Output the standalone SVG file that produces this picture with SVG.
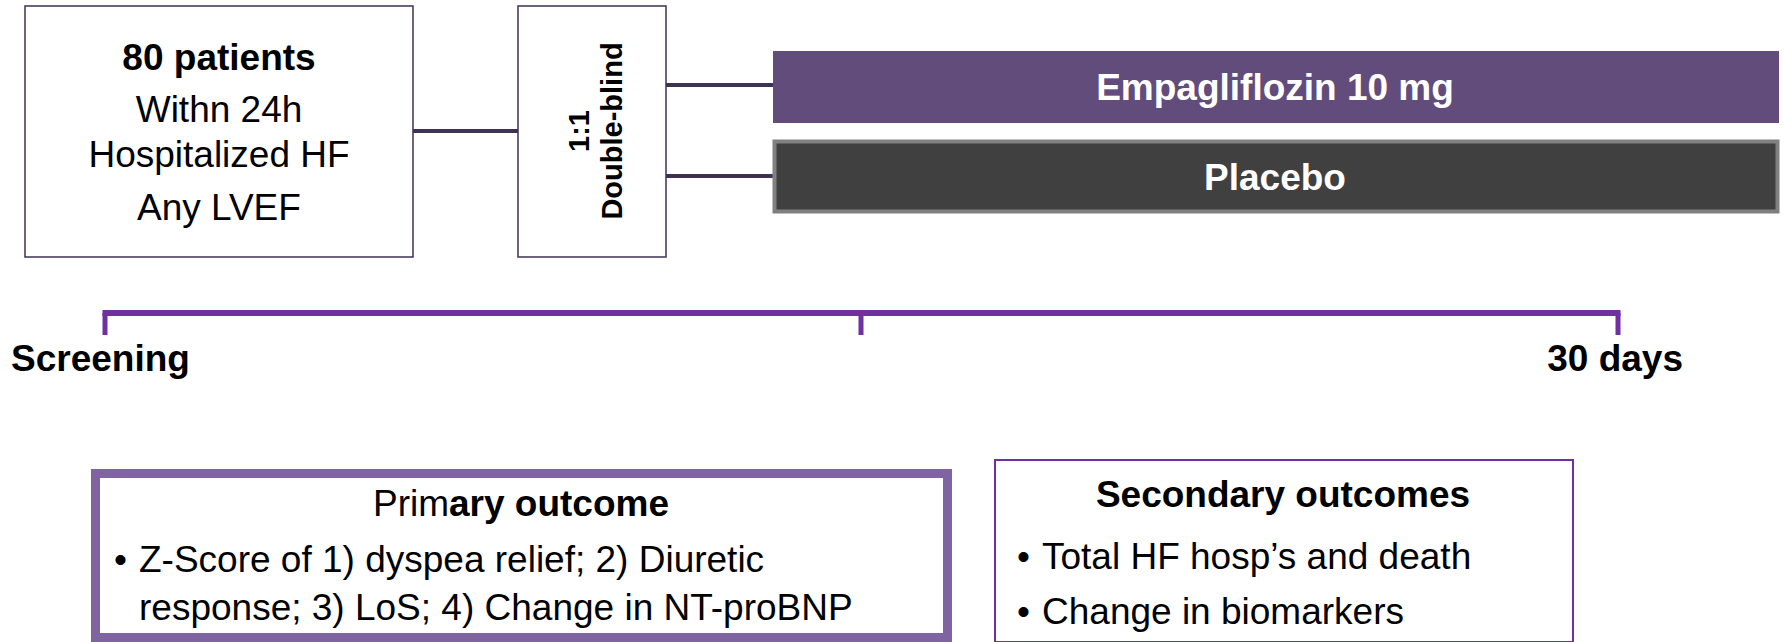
<svg xmlns="http://www.w3.org/2000/svg" width="1785" height="642" viewBox="0 0 1785 642">
<style>
text{font-family:"Liberation Sans",Arial,sans-serif;font-size:37px;fill:#000}
.b{font-weight:bold}
.w{fill:#fff}
.box{fill:#fff;stroke:#3F3151;stroke-width:1.5}
.conn{stroke:#3F3151;stroke-width:4;fill:none}
.tl{stroke:#7030A0;fill:none}
</style>
<rect width="1785" height="642" fill="#fff"/>
<g id="connectors">
<line class="conn" x1="413" y1="131" x2="518" y2="131"/>
<line class="conn" x1="666" y1="85" x2="773" y2="85"/>
<line class="conn" x1="666" y1="176" x2="773" y2="176"/>
</g>
<g id="patients">
<rect class="box" x="25" y="6" width="388" height="251"/>
<text class="b" x="219" y="70" text-anchor="middle">80 patients</text>
<text x="219" y="122" text-anchor="middle">Withn 24h</text>
<text x="219" y="167" text-anchor="middle">Hospitalized HF</text>
<text x="219" y="220" text-anchor="middle">Any LVEF</text>
</g>
<g id="randomization">
<rect class="box" x="518" y="6" width="148" height="251"/>
<text class="b" style="font-size:29px" transform="translate(589,131) rotate(-90)" text-anchor="middle">1:1</text>
<text class="b" style="font-size:29px" transform="translate(622,131) rotate(-90)" text-anchor="middle">Double-blind</text>
</g>
<g id="empagliflozin">
<rect x="773" y="51" width="1006" height="72" fill="#614C7C"/>
<text class="b w" x="1275" y="100" text-anchor="middle">Empagliflozin 10 mg</text>
</g>
<g id="placebo">
<rect x="774.5" y="141.5" width="1003" height="70" fill="#404040" stroke="#808080" stroke-width="4"/>
<text class="b w" x="1275" y="190" text-anchor="middle">Placebo</text>
</g>
<g id="timeline">
<line class="tl" x1="102.5" y1="313" x2="1620.5" y2="313" stroke-width="6"/>
<line class="tl" x1="105" y1="313" x2="105" y2="335" stroke-width="5"/>
<line class="tl" x1="861" y1="313" x2="861" y2="335" stroke-width="5"/>
<line class="tl" x1="1618" y1="313" x2="1618" y2="335" stroke-width="5"/>
<text class="b" x="11" y="371">Screening</text>
<text class="b" x="1683" y="371" text-anchor="end">30 days</text>
</g>
<g id="primary">
<rect x="95.5" y="473.5" width="852" height="164" fill="#fff" stroke="#8064A2" stroke-width="9"/>
<text x="521" y="516" text-anchor="middle">Prim<tspan class="b">ary outcome</tspan></text>
<text x="114" y="572">•</text>
<text x="139" y="572">Z-Score of 1) dyspea relief; 2) Diuretic</text>
<text x="139" y="620">response; 3) LoS; 4) Change in NT-proBNP</text>
</g>
<g id="secondary">
<rect x="995" y="460" width="578" height="182" fill="#fff" stroke="#7030A0" stroke-width="2"/>
<text class="b" x="1283" y="507" text-anchor="middle">Secondary outcomes</text>
<text x="1017" y="569">•</text>
<text x="1042" y="569">Total HF hosp’s and death</text>
<text x="1017" y="624">•</text>
<text x="1042" y="624">Change in biomarkers</text>
</g>
</svg>
